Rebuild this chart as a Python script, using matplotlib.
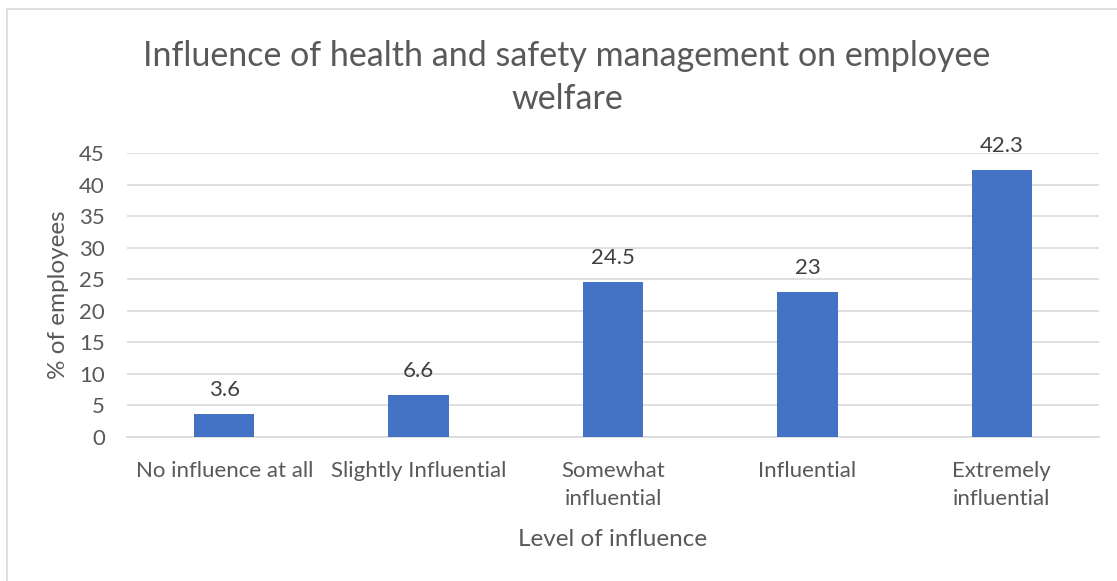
import matplotlib
matplotlib.use("Agg")
import matplotlib.pyplot as plt
from matplotlib.patches import Rectangle

categories = ["No influence at all", "Slightly Influential", "Somewhat\ninfluential",
              "Influential", "Extremely\ninfluential"]
values = [3.6, 6.6, 24.5, 23, 42.3]
value_labels = ["3.6", "6.6", "24.5", "23", "42.3"]
yticks = [0, 5, 10, 15, 20, 25, 30, 35, 40, 45]

plt.rcParams['font.family'] = ['Lato', 'DejaVu Sans']
text_color = "#595959"
bar_color = "#4472C4"
grid_color = "#D9D9D9"

W, H = 1117, 581
fig = plt.figure(figsize=(W / 100, H / 100), dpi=100)

# chart border (left/top visible)
fig.patches.append(Rectangle((7 / W, -0.1), 1.2, (H - 9) / H + 0.1,
                             transform=fig.transFigure, fill=False,
                             edgecolor="#D9D9D9", linewidth=1.2))

ax = fig.add_axes([127 / W, 1 - 437 / H, (1099 - 127) / W, (437 - 153) / H])
x = list(range(len(categories)))
ax.bar(x, values, width=0.31, color=bar_color, zorder=3)
ax.set_xlim(-0.5, len(categories) - 0.5)
ax.set_ylim(0, 45)
ax.set_yticks(yticks)
ax.set_yticklabels([str(t) for t in yticks])
ax.set_xticks(x)
ax.set_xticklabels(categories, linespacing=1.5)
ax.yaxis.grid(True, color=grid_color, linewidth=1.2, zorder=0)
for s in ["top", "right", "left"]:
    ax.spines[s].set_visible(False)
ax.spines["bottom"].set_color(grid_color)
ax.spines["bottom"].set_linewidth(1.2)
ax.tick_params(axis="both", length=0, labelsize=16, colors=text_color)
ax.tick_params(axis="y", pad=16)
ax.tick_params(axis="x", pad=17)

for xi, v, t in zip(x, values, value_labels):
    ax.annotate(t, (xi, v), xytext=(0, 10), textcoords="offset points",
                ha="center", va="bottom", fontsize=16, color="#404040")

ax.set_xlabel("Level of influence", fontsize=17.5, color=text_color, labelpad=15)
ax.set_ylabel("% of employees", fontsize=17.5, color=text_color, labelpad=7)

fig.text(567 / W, 1 - 77.5 / H,
         "Influence of health and safety management on employee\nwelfare",
         ha="center", va="center", fontsize=24.5, color=text_color, linespacing=1.42)

fig.savefig("out.png", dpi=100)
